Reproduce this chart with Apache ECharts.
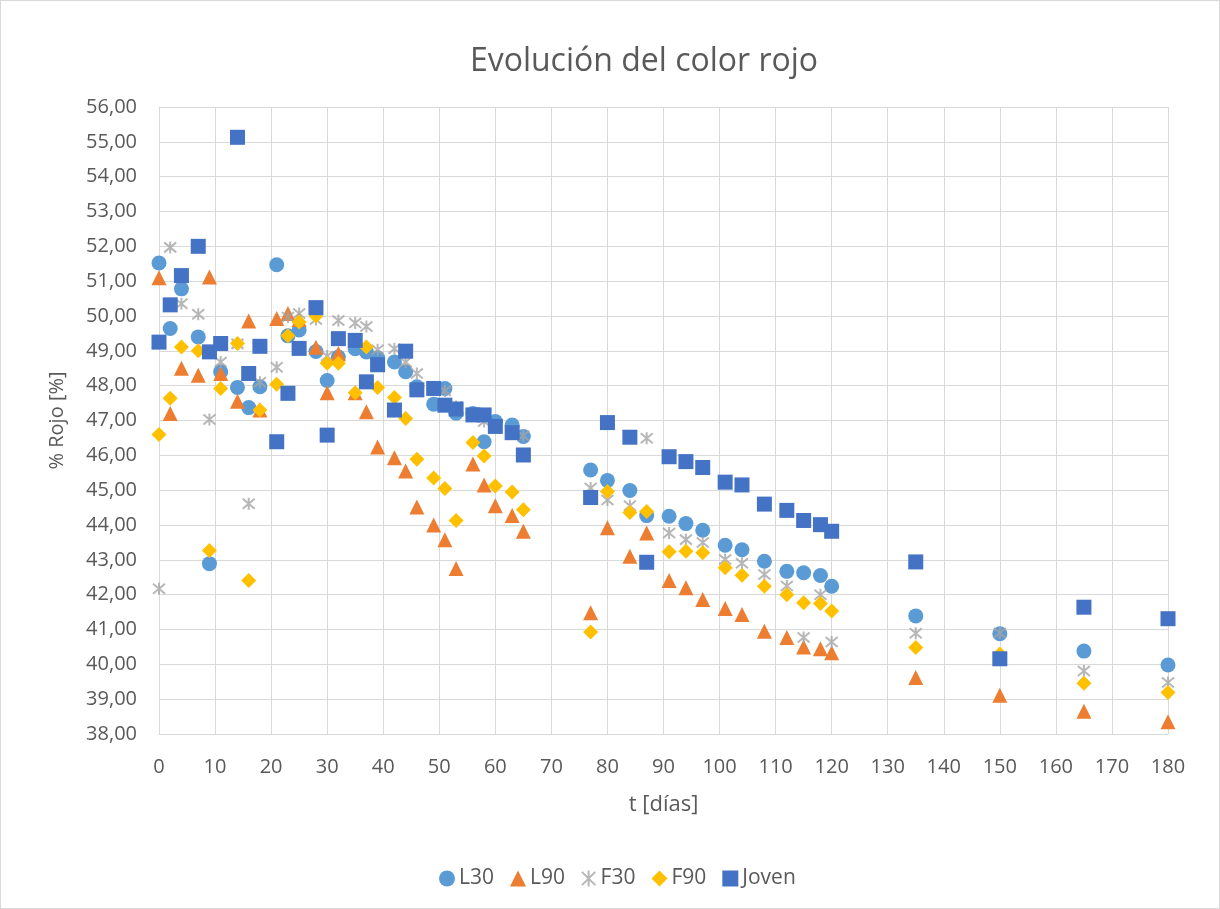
<!DOCTYPE html>
<html>
<head>
<meta charset="utf-8">
<script src="https://cdn.jsdelivr.net/npm/echarts@6/dist/echarts.min.js"></script>
<style>
  html, body { margin: 0; padding: 0; background: #ffffff; }
  #chart { width: 1220px; height: 909px; box-sizing: border-box; border: 1px solid #D9D9D9; }
</style>
</head>
<body>
<div id="chart"></div>
<script>
const dias = [0, 2, 4, 7, 9, 11, 14, 16, 18, 21, 23, 25, 28, 30, 32, 35, 37, 39, 42, 44, 46, 49, 51, 53, 56, 58, 60, 63, 65, 77, 80, 84, 87, 91, 94, 97, 101, 104, 108, 112, 115, 118, 120, 135, 150, 165, 180];

const L30 = [51.52, 49.64, 50.78, 49.40, 42.89, 48.40, 47.95, 47.37, 47.97, 51.47, 49.43, 49.60, 48.98, 48.15, 48.82, 49.06, 48.97, 48.80, 48.68, 48.40, 47.97, 47.47, 47.92, 47.21, 47.20, 46.39, 46.97, 46.87, 46.54, 45.58, 45.28, 44.99, 44.27, 44.25, 44.04, 43.85, 43.42, 43.29, 42.96, 42.67, 42.63, 42.55, 42.24, 41.39, 40.88, 40.38, 39.98];

const L90 = [51.10, 47.20, 48.50, 48.30, 51.12, 48.35, 47.55, 49.86, 47.30, 49.93, 50.07, 49.90, 49.10, 47.80, 48.92, 47.80, 47.25, 46.24, 45.93, 45.55, 44.52, 44.00, 43.58, 42.75, 45.75, 45.15, 44.55, 44.27, 43.82, 41.48, 43.92, 43.10, 43.77, 42.41, 42.20, 41.86, 41.60, 41.43, 40.95, 40.77, 40.50, 40.45, 40.33, 39.62, 39.11, 38.65, 38.35];

const F30 = [42.17, 51.97, 50.35, 50.05, 47.03, 48.68, 49.20, 44.61, 48.10, 48.53, 49.97, 50.07, 49.90, 48.85, 49.87, 49.80, 49.70, 49.03, 49.06, 48.68, 48.35, 47.90, 47.85, 47.40, 47.15, 46.97, 46.85, 46.70, 46.56, 45.06, 44.72, 44.55, 46.49, 43.77, 43.58, 43.50, 43.01, 42.90, 42.58, 42.25, 40.77, 42.00, 40.64, 40.89, 40.90, 39.81, 39.48];

const F90 = [46.60, 47.64, 49.11, 49.00, 43.27, 47.92, 49.21, 42.41, 47.30, 48.04, 49.43, 49.83, 50.00, 48.64, 48.64, 47.80, 49.11, 47.95, 47.66, 47.06, 45.89, 45.35, 45.05, 44.13, 46.37, 45.98, 45.12, 44.95, 44.44, 40.93, 44.96, 44.36, 44.39, 43.23, 43.25, 43.20, 42.77, 42.56, 42.24, 42.00, 41.77, 41.75, 41.53, 40.48, 40.30, 39.46, 39.19];

const Joven = [49.25, 50.32, 51.16, 52.00, 48.97, 49.21, 55.13, 48.35, 49.13, 46.39, 47.78, 49.07, 50.24, 46.58, 49.35, 49.30, 48.11, 48.60, 47.30, 48.99, 47.88, 47.92, 47.44, 47.33, 47.16, 47.16, 46.83, 46.65, 46.01, 44.79, 46.94, 46.52, 42.93, 45.96, 45.82, 45.65, 45.23, 45.15, 44.60, 44.42, 44.13, 44.01, 43.82, 42.94, 40.16, 41.64, 41.31];

const seriesNames = ['L30', 'L90', 'F30', 'F90', 'Joven'];
const seriesValues = [L30, L90, F30, F90, Joven];
const colors = ['#5B9BD5', '#ED7D31', '#A5A5A5', '#FFC000', '#4472C4'];
const symbols = ['circle', 'triangle', 'path://M0,0L10,10M10,0L0,10M5,-1L5,11', 'diamond', 'rect'];
const sizes = [15, 15, 12, 15, 15];

const FONT = '"Open Sans", "Noto Sans", sans-serif';
const TXT = '#595959';

const chart = echarts.init(document.getElementById('chart'), null, { renderer: 'canvas' });

const series = seriesNames.map((name, k) => {
  const isStar = k === 2;
  return {
    name: name,
    type: 'scatter',
    symbol: symbols[k],
    symbolSize: sizes[k],
    data: dias.map((t, i) => [t, seriesValues[k][i]]),
    itemStyle: isStar
      ? { color: 'rgba(0,0,0,0)', borderColor: colors[k], borderWidth: 2 }
      : { color: colors[k], opacity: 1 },
    emphasis: { disabled: true },
    animation: false
  };
});

chart.setOption({
  animation: false,
  color: colors,
  title: {
    text: 'Evolución del color rojo',
    left: 638,
    textAlign: 'center',
    top: 40,
    textStyle: { fontFamily: FONT, fontSize: 32, fontWeight: 'normal', color: TXT }
  },
  grid: { left: 158, right: 51, top: 106, bottom: 174, containLabel: false },
  xAxis: {
    type: 'value',
    min: 0, max: 180, interval: 10,
    name: 't [días]',
    nameLocation: 'middle',
    nameGap: 60,
    nameTextStyle: { fontFamily: FONT, fontSize: 22, color: TXT },
    axisLine: { show: true, lineStyle: { color: '#D9D9D9', width: 1 } },
    axisTick: { show: false },
    axisLabel: { fontFamily: FONT, fontSize: 20, color: TXT, margin: 23 },
    splitLine: { show: true, lineStyle: { color: '#D9D9D9', width: 1 } }
  },
  yAxis: {
    type: 'value',
    min: 38, max: 56, interval: 1,
    name: '% Rojo [%]',
    nameLocation: 'middle',
    nameGap: 92,
    nameRotate: 90,
    nameTextStyle: { fontFamily: FONT, fontSize: 20, color: TXT },
    axisLine: { show: true, lineStyle: { color: '#D9D9D9', width: 1 } },
    axisTick: { show: false },
    axisLabel: {
      fontFamily: FONT, fontSize: 20, color: TXT, margin: 22,
      formatter: v => v.toFixed(2).replace('.', ',')
    },
    splitLine: { show: true, lineStyle: { color: '#D9D9D9', width: 1 } }
  },
  legend: {
    data: seriesNames,
    top: 862,
    left: 433,
    itemWidth: 16,
    itemHeight: 16,
    itemGap: 16,
    textStyle: { fontFamily: FONT, fontSize: 21, color: TXT, padding: [0, 0, 0, -1] }
  },
  series: series
});
</script>
</body>
</html>
